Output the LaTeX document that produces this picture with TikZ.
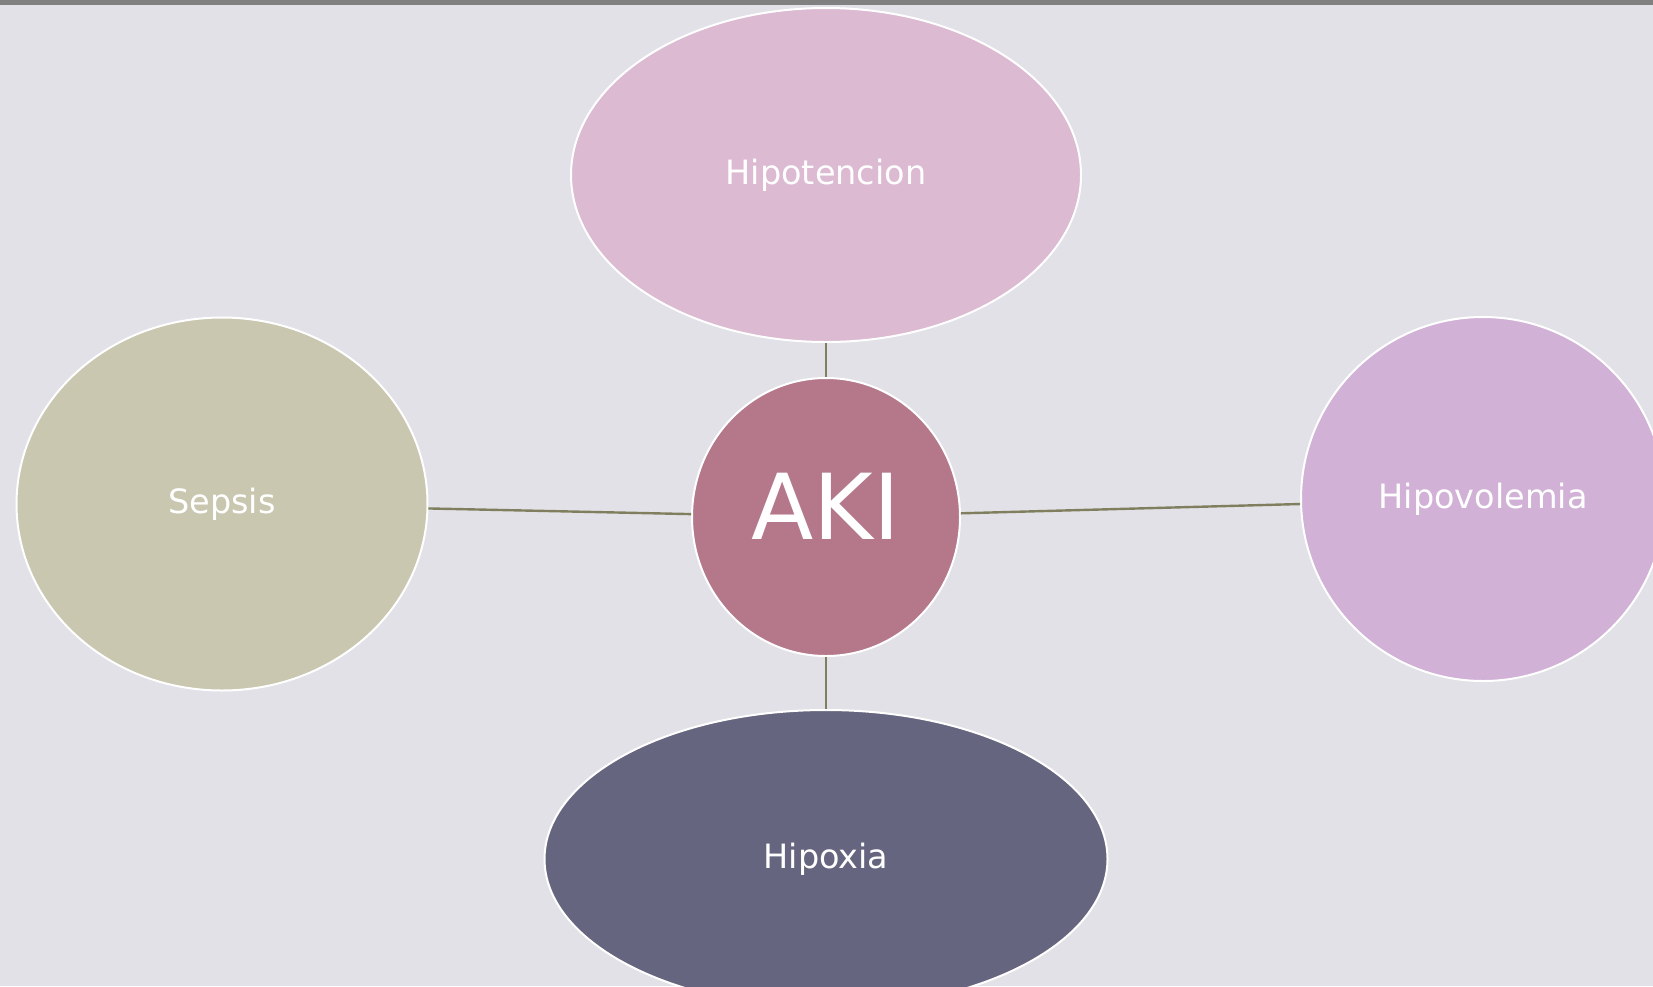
\documentclass[tikz,border=0pt]{standalone}
\usepackage{fontspec}
\setmainfont{DejaVu Sans}
\usetikzlibrary{shapes.geometric}
\definecolor{bgcol}{HTML}{E2E1E7}
\definecolor{topcol}{HTML}{808080}
\definecolor{linkcol}{HTML}{7F7F5F}
\definecolor{tensioncol}{HTML}{DCBAD2}
\definecolor{akicol}{HTML}{B4788A}
\definecolor{sepsiscol}{HTML}{C9C7B0}
\definecolor{volcol}{HTML}{D1B1D6}
\definecolor{oxcol}{HTML}{65657F}
\tikzset{
  bubble/.style={
    ellipse, draw=white, line width=2pt, inner sep=0pt,
    text=white, font=\fontsize{33.5}{40}\selectfont
  },
  hub/.style={
    bubble, font=\fontsize{91}{105}\selectfont, text depth=21pt
  },
  link/.style={draw=linkcol, line width=2.4pt}
}

\begin{document}
\begin{tikzpicture}[x=1pt, y=-1pt]
  \useasboundingbox (0,0) rectangle (1653,986);
  \clip (0,0) rectangle (1653,986);
  \fill[bgcol] (0,0) rectangle (1653,986);
  \fill[topcol] (0,0) rectangle (1653,5);
  % centre and the four causes
  \node[hub, fill=akicol, minimum width=268pt, minimum height=278pt] (aki) at (826,517) {AKI};
  \node[bubble, fill=tensioncol, minimum width=510pt, minimum height=334pt] (tension) at (826,175) {Hipotencion};
  \node[bubble, fill=sepsiscol, minimum width=411pt, minimum height=373pt] (sepsis) at (222,504) {Sepsis};
  \node[bubble, fill=volcol, minimum width=364pt, minimum height=364pt] (vol) at (1483,499) {Hipovolemia};
  \node[bubble, fill=oxcol, minimum width=563pt, minimum height=298pt] (ox) at (826,859) {Hipoxia};
  % links
  \draw[link] (tension) -- (aki);
  \draw[link] (sepsis) -- (aki);
  \draw[link] (vol) -- (aki);
  \draw[link] (ox) -- (aki);
\end{tikzpicture}
\end{document}
